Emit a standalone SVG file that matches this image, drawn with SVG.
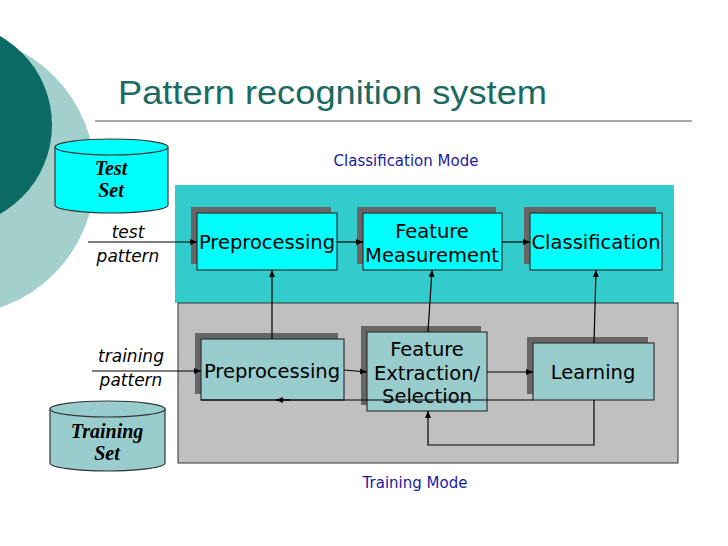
<svg xmlns="http://www.w3.org/2000/svg" width="728" height="546" viewBox="0 0 728 546">
<style>
.t{font-family:"DejaVu Sans",sans-serif;font-size:19.5px;fill:#000;text-anchor:middle}
.c{stroke:#000;stroke-width:1.2;fill:none}
.b1{fill:#00ffff;stroke:#333;stroke-width:1.2}
.b2{fill:#99cccc;stroke:#333;stroke-width:1.2}
.sh{fill:#666}
.cyl{font-family:"Liberation Serif",serif;font-size:20px;font-weight:bold;font-style:italic;text-anchor:middle}
.lab{font-family:"DejaVu Sans",sans-serif;font-size:17px;font-style:italic;text-anchor:middle}
</style>
<defs><marker id="a" markerWidth="8" markerHeight="8" refX="7" refY="4" orient="auto" markerUnits="userSpaceOnUse"><path d="M0,1 L7,4 L0,7z" fill="#000"/></marker></defs>
<rect width="728" height="546" fill="#fff"/>
<circle cx="-45" cy="175" r="140" fill="#a3cfcc"/>
<circle cx="-50" cy="125" r="102" fill="#0b6a63"/>
<text x="118" y="104" font-family="Liberation Sans,sans-serif" font-size="34" fill="#1a6a62" textLength="429" lengthAdjust="spacingAndGlyphs">Pattern recognition system</text>
<line x1="95" y1="121" x2="692" y2="121" stroke="#555" stroke-width="1"/>
<text x="406" y="166" font-family="DejaVu Sans,sans-serif" font-size="15" fill="#1a1aa0" text-anchor="middle">Classification Mode</text>
<text x="415" y="488" font-family="DejaVu Sans,sans-serif" font-size="15" fill="#1a1aa0" text-anchor="middle">Training Mode</text>
<rect x="175" y="185" width="499" height="118" fill="#33cccc"/>
<rect x="178" y="303" width="500" height="160" fill="#c0c0c0" stroke="#333" stroke-width="1"/>
<g id="testset"><path d="M55,147 V205 A56.5,8 0 0 0 168,205 V147" fill="#00ffff" stroke="#333" stroke-width="1.2"/><ellipse cx="111.5" cy="147" rx="56.5" ry="8" fill="#00ffff" stroke="#333" stroke-width="1.2"/><text class="cyl" x="111" y="175">Test</text><text class="cyl" x="111" y="197">Set</text></g>
<g id="trainingset"><path d="M50,409 V463 A57.5,8 0 0 0 165,463 V409" fill="#99cccc" stroke="#333" stroke-width="1.2"/><ellipse cx="107.5" cy="409" rx="57.5" ry="8" fill="#99cccc" stroke="#333" stroke-width="1.2"/><text class="cyl" x="107" y="438">Training</text><text class="cyl" x="107" y="460">Set</text></g>
<text class="lab" x="128" y="238">test</text><text class="lab" x="128" y="262">pattern</text>
<text class="lab" x="131" y="362">training</text><text class="lab" x="131" y="386">pattern</text>
<g id="pre1"><rect class="sh" x="191" y="207" width="140" height="57"/><rect class="b1" x="197" y="213" width="140" height="57"/><text class="t" x="267" y="249">Preprocessing</text></g>
<g id="fm"><rect class="sh" x="357" y="207" width="139" height="57"/><rect class="b1" x="363" y="213" width="139" height="57"/><text class="t" x="432" y="238">Feature</text><text class="t" x="432" y="262">Measurement</text></g>
<g id="cls"><rect class="sh" x="524" y="207" width="132" height="57"/><rect class="b1" x="530" y="213" width="132" height="57"/><text class="t" x="596" y="249">Classification</text></g>
<g id="pre2"><rect class="sh" x="195" y="333" width="143" height="61"/><rect class="b2" x="201" y="339" width="143" height="61"/><text class="t" x="272" y="378">Preprocessing</text></g>
<g id="fe"><rect class="sh" x="361" y="326" width="120" height="79"/><rect class="b2" x="367" y="332" width="120" height="79"/><text class="t" x="427" y="356">Feature</text><text class="t" x="427" y="380">Extraction/</text><text class="t" x="427" y="403">Selection</text></g>
<g id="learn"><rect class="sh" x="527" y="337" width="121" height="57"/><rect class="b2" x="533" y="343" width="121" height="57"/><text class="t" x="593" y="379">Learning</text></g>
<g id="connectors">
<path class="c" d="M88,242 H197" marker-end="url(#a)"/>
<path class="c" d="M92,371 H201" marker-end="url(#a)"/>
<path class="c" d="M337,242 H363" marker-end="url(#a)"/>
<path class="c" d="M502,242 H530" marker-end="url(#a)"/>
<path class="c" d="M344,370 L367,372" marker-end="url(#a)"/>
<path class="c" d="M487,372 H533" marker-end="url(#a)"/>
<path class="c" d="M272,339 V270" marker-end="url(#a)"/>
<path class="c" d="M428,332 L432,270" marker-end="url(#a)"/>
<path class="c" d="M594,343 L596,270" marker-end="url(#a)"/>
<path class="c" d="M201,400 H533"/>
<path class="c" d="M290,400 H276" marker-end="url(#a)"/>
<path class="c" d="M594,400 V445 H428 V411" marker-end="url(#a)"/>
</g>
</svg>
